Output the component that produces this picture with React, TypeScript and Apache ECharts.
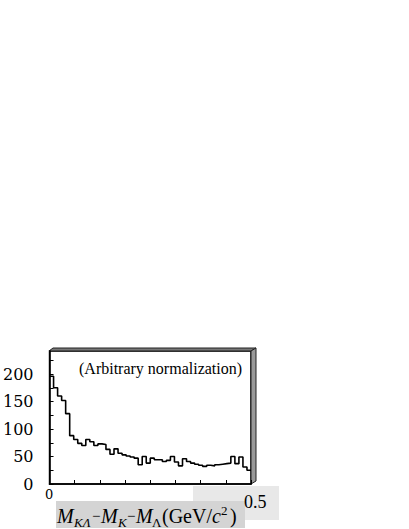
import React, { useEffect, useRef } from "react";
import * as echarts from "echarts";

const binWidth = 0.01;
const counts = [
  196, 175, 160, 152, 128, 88, 81, 74, 70, 81,
  77, 70, 73, 72, 63, 54, 64, 56, 53, 51,
  49, 47, 35, 50, 38, 47, 44, 44, 41, 43,
  50, 40, 33, 46, 41, 38, 36, 34, 32, 34,
  33, 35, 36, 37, 38, 50, 37, 49, 31, 25,
];
const yTickLabels = [0, 50, 100, 150, 200];
const xTickLabels = ["0", "0.5"];
const titleText = "(Arbitrary normalization)";

const SERIF = "Liberation Serif";
const NUMFONT = "DejaVu Serif";

export default function App() {
  const ref = useRef<HTMLDivElement>(null);
  useEffect(() => {
    if (!ref.current) return;
    const chart = echarts.init(ref.current, undefined, { renderer: "svg" });
    const data: [number, number][] = counts.map((v, i) => [i * binWidth, v]);
    data.push([counts.length * binWidth, counts[counts.length - 1]]);

    const L = 49, T = 351, R = 251, B = 484;
    const txt = (x: number, y: number, t: string, size: number, italic: boolean, family = SERIF) => ({
      type: "text",
      x, y,
      style: {
        text: t, fontFamily: family, fontSize: size, fontStyle: italic ? "italic" : "normal",
        fill: "#000", verticalAlign: "middle",
      },
    });

    chart.setOption({
      animation: false,
      backgroundColor: "#fff",
      grid: { left: L, top: T, width: R - L, height: B - T, show: true, borderColor: "#000", borderWidth: 1.5, backgroundColor: "#fff" },
      xAxis: {
        type: "value", min: 0, max: 0.5, interval: 0.0625,
        axisLine: { show: true, lineStyle: { color: "#000", width: 1.5 } },
        axisTick: { show: true, inside: true, length: 4, lineStyle: { color: "#000" } },
        axisLabel: { show: false },
        splitLine: { show: false },
      },
      yAxis: {
        type: "value", min: 0, max: 242, interval: 25,
        axisLine: { show: true, lineStyle: { color: "#000", width: 1.5 } },
        axisTick: { show: true, inside: true, length: 4, lineStyle: { color: "#000" } },
        axisLabel: {
          show: true, margin: 16, color: "#000", fontFamily: NUMFONT, fontSize: 16,
          showMaxLabel: false,
          formatter: (v: number) => (yTickLabels.includes(v) ? String(v) : ""),
        },
        splitLine: { show: false },
      },
      series: [
        {
          type: "line", step: "end", data, symbol: "none",
          lineStyle: { color: "#000", width: 1.6 },
        },
      ],
      graphic: [
        { type: "polygon", shape: { points: [[L, T], [L + 4, T - 3], [R + 5, T - 3], [R, T]] }, style: { fill: "#777", stroke: "#222", lineWidth: 1 } },
        { type: "polygon", shape: { points: [[R, T], [R + 5, T - 3], [R + 5, B - 3], [R, B]] }, style: { fill: "#999", stroke: "#222", lineWidth: 1 } },
        { type: "rect", shape: { x: 193, y: 486, width: 86, height: 34 }, style: { fill: "#e8e8e8" } },
        { type: "rect", shape: { x: 56, y: 501, width: 189, height: 27 }, style: { fill: "#d4d4d4" } },
        txt(79, 368, titleText, 16, false),
        txt(45, 494, xTickLabels[0], 13, false, NUMFONT),
        txt(244, 502, xTickLabels[1], 18, false),
        txt(57, 516, "M", 20, true),
        txt(74, 522, "KΛ", 13, true),
        txt(92, 516, "−", 15, false),
        txt(101, 516, "M", 20, true),
        txt(118, 522, "K", 13, true),
        txt(127, 516, "−", 15, false),
        txt(136, 516, "M", 20, true),
        txt(152, 522, "Λ", 13, false),
        txt(162, 516, "(GeV/", 20, false),
        txt(212, 516, "c", 20, true),
        txt(221, 510, "2", 13, false),
        txt(230, 516, ")", 20, false),
      ],
    });
    return () => chart.dispose();
  }, []);
  return <div ref={ref} style={{ width: 409, height: 529, position: "absolute", left: 0, top: 0 }} />;
}
